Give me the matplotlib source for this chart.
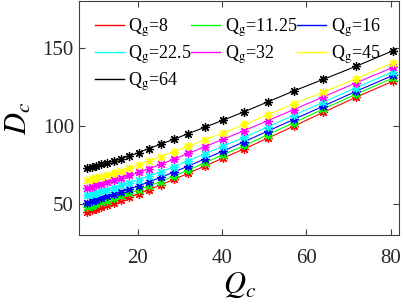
import matplotlib
matplotlib.use("Agg")
import matplotlib.pyplot as plt

# Q_c sample points
qc = [8, 9, 10.1, 11.3, 12.7, 14.3, 16, 18, 20.2, 22.6, 25.4, 28.5, 32,
      35.9, 40.3, 45.3, 50.8, 57, 64, 71.8, 80.6]

# D_c for each Q_g
d_8 = [45.1, 46, 47, 48.1, 49.4, 50.8, 52.4, 54.3, 56.5, 59, 62.1, 65.6,
       69.6, 74.2, 79.4, 85.2, 92, 99.7, 108.5, 118.2, 128.5]
d_11 = [47.9, 48.8, 49.8, 50.9, 52.1, 53.5, 55, 56.8, 58.9, 61.4, 64.3, 67.8,
        71.7, 76.3, 81.5, 87.4, 94.2, 101.9, 110.6, 120.2, 130.5]
d_16 = [50.8, 51.6, 52.5, 53.6, 54.8, 56.2, 57.7, 59.5, 61.6, 64, 66.9, 70.3,
        74.2, 78.8, 83.9, 89.8, 96.5, 104, 112.5, 122, 132.2]
d_22 = [55.7, 56.4, 57.2, 58.1, 59.2, 60.4, 61.8, 63.4, 65.4, 67.7, 70.5, 73.8,
        77.6, 82, 87, 92.7, 99.2, 106.6, 115, 124.3, 134.5]
d_32 = [60.4, 61.1, 61.9, 62.8, 63.9, 65.1, 66.5, 68.2, 70.2, 72.5, 75.3, 78.6,
        82.3, 86.6, 91.4, 96.9, 103.2, 110.3, 118.4, 127.4, 137.3]
d_45 = [65, 65.7, 66.5, 67.3, 68.3, 69.5, 71, 72.8, 75, 77.5, 80.3, 83.3,
        86.9, 91, 95.4, 100.8, 107, 114, 121.5, 130, 140.3]
d_64 = [73, 73.6, 74.3, 75.2, 76.2, 77.5, 79, 80.7, 82.8, 85.4, 88.2, 91.3,
        95, 99, 103.6, 109, 115.2, 122.2, 129.6, 138, 148]

series = [d_8, d_11, d_16, d_22, d_32, d_45, d_64]
labels = ["8", "11.25", "16", "22.5", "32", "45", "64"]
colors = ["#ff0000", "#00ff00", "#0000ff", "#00ffff", "#ff00ff", "#ffff00", "#000000"]

plt.rcParams["font.family"] = ["Liberation Serif", "DejaVu Serif"]
plt.rcParams["mathtext.fontset"] = "stix"

fig = plt.figure(figsize=(4.03, 3.07), dpi=100)
ax = fig.add_axes([0.197, 0.234, 0.793, 0.764])

handles = []
for d, lab, c in zip(series, labels, colors):
    h, = ax.plot(qc, d, color=c, lw=0.8, marker=(8, 2, 0), ms=6.5, mew=0.9,
                 label=r"Q$_{\mathrm{g}}$=" + lab)
    handles.append(h)

ax.set_xlim(6.1, 82)
ax.set_ylim(30, 180)
ax.set_xticks([20, 40, 60, 80])
ax.set_yticks([50, 100, 150])

gray = "#404040"
for s in ax.spines.values():
    s.set_color(gray)
    s.set_linewidth(0.8)
ax.tick_params(direction="in", top=True, right=True, length=4,
               colors=gray, labelsize=15, labelcolor="#262626")
ax.tick_params(axis="x", pad=10)
ax.tick_params(axis="y", pad=4)

ax.set_xlabel(r"$Q_c$", fontsize=22, labelpad=2)
ax.set_ylabel(r"$D_c$", fontsize=22, labelpad=6)

# row-major order for a 3-column legend
order = [0, 3, 6, 1, 4, 2, 5]
leg = ax.legend([handles[i] for i in order],
                [handles[i].get_label() for i in order],
                loc="upper left", ncol=3, frameon=False, fontsize=13,
                handlelength=1.6, handletextpad=0.25, columnspacing=0.0,
                labelspacing=0.25, borderaxespad=0.45)
for h in leg.get_lines():
    h.set_marker("")
    h.set_linewidth(1.0)

fig.savefig("out.png", dpi=100)
